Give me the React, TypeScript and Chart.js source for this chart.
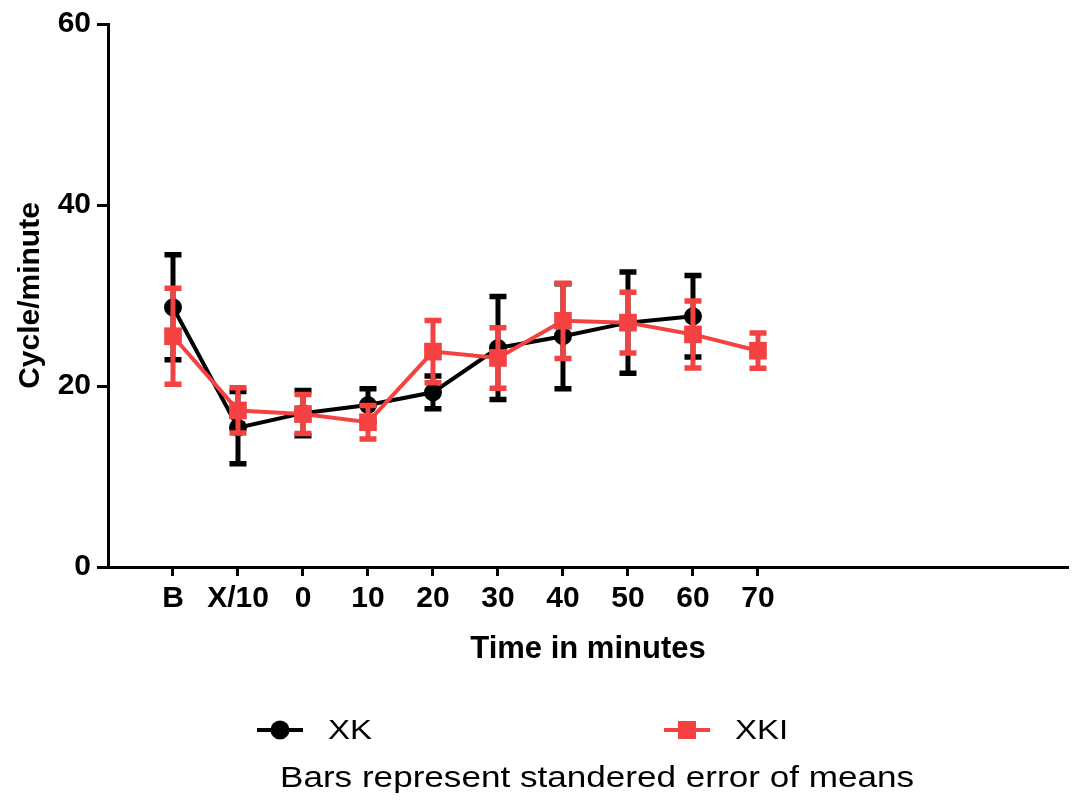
import React, { useEffect, useRef } from 'react';
import { Chart, registerables } from 'chart.js';

Chart.register(...registerables);

// ---- data ----
const categories = ['B', 'X/10', '0', '10', '20', '30', '40', '50', '60', '70'];
const xkMean = [28.7, 15.4, 17.0, 17.9, 19.3, 24.2, 25.5, 27.0, 27.7, null];
const xkSem = [5.8, 4.0, 2.5, 1.8, 1.8, 5.7, 5.8, 5.6, 4.5, null];
const xkiMean = [25.5, 17.3, 16.9, 16.0, 23.8, 23.1, 27.2, 27.0, 25.7, 23.9];
const xkiSem = [5.3, 2.5, 2.15, 1.85, 3.45, 3.35, 4.15, 3.35, 3.7, 1.95];
const yTicks = [0, 20, 40, 60];
const yTitle = 'Cycle/minute';
const xTitle = 'Time in minutes';
const footnote = 'Bars represent standered error of means';

const BLACK = '#000000';
const RED = '#F44242';
const FONT = '"Liberation Sans", Arial, Helvetica, sans-serif';

function toPoints(means: (number | null)[]) {
  const pts: { x: number; y: number }[] = [];
  means.forEach((m, i) => {
    if (m !== null) pts.push({ x: i + 1, y: m });
  });
  return pts;
}
function toErrors(means: (number | null)[], sems: (number | null)[]) {
  const errs: number[] = [];
  means.forEach((m, i) => {
    if (m !== null) errs.push(sems[i] as number);
  });
  return errs;
}

const errorBarPlugin = {
  id: 'errorBars',
  beforeDatasetDraw(chart: any, args: any) {
    const ds = chart.data.datasets[args.index];
    if (!ds.errors) return;
    const meta = chart.getDatasetMeta(args.index);
    const yScale = chart.scales.y;
    const ctx = chart.ctx;
    ctx.save();
    ctx.strokeStyle = ds.borderColor;
    ctx.lineCap = 'butt';
    meta.data.forEach((pt: any, i: number) => {
      const d = ds.data[i];
      const e = ds.errors[i];
      const x = pt.x;
      const yTop = yScale.getPixelForValue(d.y + e);
      const yBot = yScale.getPixelForValue(d.y - e);
      const hw = 8.5;
      ctx.lineWidth = 5;
      ctx.beginPath();
      ctx.moveTo(x, yTop);
      ctx.lineTo(x, yBot);
      ctx.stroke();
      ctx.lineWidth = 5.5;
      ctx.beginPath();
      ctx.moveTo(x - hw, yTop);
      ctx.lineTo(x + hw, yTop);
      ctx.moveTo(x - hw, yBot);
      ctx.lineTo(x + hw, yBot);
      ctx.stroke();
    });
    ctx.restore();
  },
};

const legendPlugin = {
  id: 'customLegend',
  afterDraw(chart: any) {
    const ctx = chart.ctx;
    const order = [1, 0]; // XK first, then XKI
    const centers = [280, 687];
    const ly = 730;
    ctx.save();
    order.forEach((dsIndex, k) => {
      const ds = chart.data.datasets[dsIndex];
      const cx = centers[k];
      ctx.strokeStyle = ds.borderColor;
      ctx.lineWidth = 4;
      ctx.beginPath();
      ctx.moveTo(cx - 23, ly);
      ctx.lineTo(cx + 23, ly);
      ctx.stroke();
      ctx.fillStyle = ds.borderColor;
      if (ds.pointStyle === 'circle') {
        ctx.beginPath();
        ctx.arc(cx, ly, 9.5, 0, Math.PI * 2);
        ctx.fill();
      } else {
        ctx.fillRect(cx - 9, ly - 9, 18, 18);
      }
      ctx.fillStyle = '#000';
      ctx.font = `28px ${FONT}`;
      ctx.textBaseline = 'middle';
      ctx.textAlign = 'left';
      ctx.save();
      ctx.translate(cx + 48, ly + 1);
      ctx.scale(1.18, 1);
      ctx.fillText(ds.label, 0, 0);
      ctx.restore();
    });
    ctx.font = `30px ${FONT}`;
    ctx.textBaseline = 'middle';
    ctx.textAlign = 'left';
    ctx.translate(280, 779);
    ctx.scale(1.17, 1);
    ctx.fillText(footnote, 0, 0);
    ctx.restore();
  },
};

export default function App() {
  const ref = useRef<HTMLCanvasElement | null>(null);

  useEffect(() => {
    document.body.style.margin = '0';
    const canvas = ref.current;
    if (!canvas) return;
    const tickFont = { family: FONT, weight: 'bold' as const, size: 30 };
    const titleFont = { family: FONT, weight: 'bold' as const, size: 30 };
    const chart = new Chart(canvas, {
      type: 'line',
      data: {
        datasets: [
          {
            label: 'XKI',
            data: toPoints(xkiMean),
            errors: toErrors(xkiMean, xkiSem),
            borderColor: RED,
            backgroundColor: RED,
            borderWidth: 4,
            pointStyle: 'rect',
            pointRadius: 12.5,
            pointBorderWidth: 0,
            pointBackgroundColor: RED,
            tension: 0,
            order: 0,
          } as any,
          {
            label: 'XK',
            data: toPoints(xkMean),
            errors: toErrors(xkMean, xkSem),
            borderColor: BLACK,
            backgroundColor: BLACK,
            borderWidth: 4,
            pointStyle: 'circle',
            pointRadius: 9,
            pointBorderWidth: 0,
            pointBackgroundColor: BLACK,
            tension: 0,
            order: 1,
          } as any,
        ],
      },
      options: {
        animation: false,
        responsive: false,
        layout: { autoPadding: false, padding: { top: 21, right: 4, bottom: 120, left: 0 } },
        plugins: {
          legend: { display: false },
          tooltip: { enabled: false },
        },
        scales: {
          x: {
            type: 'linear',
            min: 0,
            max: 14.77,
            afterBuildTicks: (s: any) => {
              s.ticks = categories.map((_, i) => ({ value: i + 1 }));
            },
            afterFit: (s: any) => {
              s.height = 114;
              s.paddingLeft = 0;
              s.paddingRight = 0;
            },
            ticks: {
              autoSkip: false,
              maxRotation: 0,
              color: '#000',
              font: tickFont,
              padding: 5,
              callback: (v: any) => categories[Math.round(v) - 1] ?? '',
            },
            grid: {
              drawOnChartArea: false,
              drawTicks: true,
              tickLength: 9,
              tickWidth: 3,
              tickColor: '#000',
            },
            border: { display: true, color: '#000', width: 3 },
            title: {
              display: true,
              text: xTitle,
              color: '#000',
              font: { ...titleFont, size: 31 },
              padding: { top: 0, bottom: 13 },
            },
          },
          y: {
            type: 'linear',
            min: 0,
            max: 60,
            afterBuildTicks: (s: any) => {
              s.ticks = yTicks.map((v) => ({ value: v }));
            },
            afterFit: (s: any) => {
              s.width = 108;
            },
            ticks: {
              color: '#000',
              font: tickFont,
              padding: 6,
            },
            grid: {
              drawOnChartArea: false,
              drawTicks: true,
              tickLength: 11,
              tickWidth: 3,
              tickColor: '#000',
            },
            border: { display: true, color: '#000', width: 3 },
            title: {
              display: true,
              text: yTitle,
              color: '#000',
              font: titleFont,
              padding: { top: 13, bottom: 0 },
            },
          },
        },
      } as any,
      plugins: [errorBarPlugin, legendPlugin],
    });
    return () => chart.destroy();
  }, []);

  return (
    <div style={{ width: 1072, height: 801 }}>
      <canvas ref={ref} width={1072} height={801} style={{ display: 'block' }} />
    </div>
  );
}
